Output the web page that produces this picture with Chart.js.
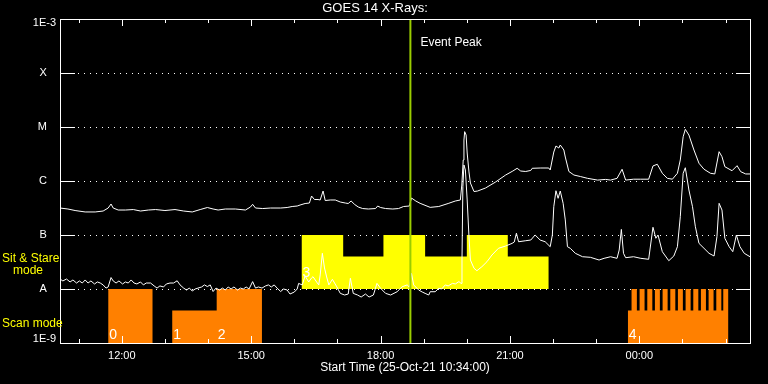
<!DOCTYPE html>
<html><head><meta charset="utf-8">
<script src="https://cdn.jsdelivr.net/npm/chart.js@4.4.1/dist/chart.umd.min.js"></script>
<style>html,body{margin:0;padding:0;background:#000;}#wrap{width:768px;height:384px;}</style>
</head><body><div id="wrap"><canvas id="c" width="768" height="384"></canvas></div>
<script>
const TITLE = 'GOES 14 X-Rays:';
const X_TITLE = 'Start Time (25-Oct-21 10:34:00)';
// x values: minutes after 10:34 UT ; y values: flux (W/m^2)
const longChannel = [[0,3.16e-7],[11,3.03e-7],[21,2.84e-7],[35,2.67e-7],[49,2.67e-7],[60,2.78e-7],[67,3.16e-7],[71,3.75e-7],[74,3.16e-7],[81,2.90e-7],[91,2.90e-7],[102,2.96e-7],[112,2.78e-7],[123,2.90e-7],[133,2.96e-7],[146,2.84e-7],[160,2.96e-7],[172,2.78e-7],[184,2.67e-7],[195,2.96e-7],[205,3.23e-7],[213,3.03e-7],[220,2.90e-7],[230,3.03e-7],[244,3.03e-7],[258,2.90e-7],[265,3.30e-7],[268,3.70e-7],[272,3.16e-7],[282,3.09e-7],[293,3.16e-7],[307,3.16e-7],[316,3.23e-7],[323,3.37e-7],[330,3.44e-7],[334,3.59e-7],[341,3.83e-7],[347,3.91e-7],[350,5.27e-7],[354,4.54e-7],[359,4.54e-7],[362,4.45e-7],[366,6.52e-7],[369,4.35e-7],[376,4.45e-7],[383,4.45e-7],[390,4.08e-7],[397,3.91e-7],[401,3.83e-7],[405,4.26e-7],[410,3.67e-7],[415,3.30e-7],[421,3.09e-7],[429,3.03e-7],[439,3.09e-7],[442,3.44e-7],[446,3.23e-7],[453,3.09e-7],[463,3.03e-7],[471,3.09e-7],[478,3.37e-7],[486,3.44e-7],[489,4.84e-7],[495,4.26e-7],[501,3.86e-7],[515,3.25e-7],[527,3.37e-7],[540,3.83e-7],[550,4.26e-7],[557,4.45e-7],[559,8.42e-7],[561,2.45e-6],[562,5.74e-6],[563,8.2e-6],[565,7.10e-6],[566.5,3.30e-6],[569,1.47e-6],[571,9.17e-7],[576,6.38e-7],[581,6.52e-7],[592,7.41e-7],[606,9.58e-7],[620,1.29e-6],[630,1.53e-6],[636,1.72e-6],[641,1.53e-6],[648,1.50e-6],[655,1.57e-6],[657,1.72e-6],[669,1.74e-6],[680,1.74e-6],[682,1.60e-6],[687,3.44e-6],[690,4.45e-6],[694,4.08e-6],[696,4.64e-6],[701,3.75e-6],[703,2.78e-6],[708,1.50e-6],[715,1.29e-6],[724,1.21e-6],[734,1.12e-6],[748,1.04e-6],[759,1.07e-6],[766,1.04e-6],[775,1.12e-6],[782,1.65e-6],[787,1.04e-6],[798,1.08e-6],[808,1.08e-6],[819,1.08e-6],[825,1.90e-6],[831,2.04e-6],[838,1.39e-6],[845,1.12e-6],[852,1.08e-6],[859,1.39e-6],[863,2.45e-6],[867,6.6e-6],[870,9.05e-6],[875,7.10e-6],[882,3.75e-6],[889,2.13e-6],[896,1.65e-6],[905,1.39e-6],[911,1.35e-6],[917,3.49e-6],[921,2.82e-6],[925,1.84e-6],[935,1.55e-6],[942,1.92e-6],[947,1.49e-6],[954,1.35e-6],[960,1.35e-6]];
const shortChannel = [[0,1.53e-8],[4,1.41e-8],[9,1.53e-8],[14,1.35e-8],[18,1.47e-8],[23,1.29e-8],[27,1.41e-8],[31,1.29e-8],[35,1.47e-8],[39,1.29e-8],[43,1.41e-8],[48,1.24e-8],[52,1.35e-8],[56,1.29e-8],[60,1.19e-8],[64,1.04e-8],[67,1.09e-8],[71,1.63e-8],[74,1.41e-8],[78,1.29e-8],[82,1.41e-8],[87,1.24e-8],[91,1.35e-8],[95,1.29e-8],[99,1.47e-8],[103,1.29e-8],[107,1.24e-8],[112,1.35e-8],[116,1.19e-8],[120,1.29e-8],[126,1.29e-8],[131,1.14e-8],[135,1.04e-8],[139,1.14e-8],[144,1.09e-8],[148,1.24e-8],[153,1.29e-8],[158,1.29e-8],[163,1.42e-8],[167,1.19e-8],[172,1.04e-8],[176,9.58e-9],[180,1.04e-8],[184,9.17e-9],[188,1.00e-8],[192,1.04e-8],[197,1.09e-8],[201,1.19e-8],[205,1.11e-8],[209,1.19e-8],[213,8.98e-9],[217,1.04e-8],[222,9.58e-9],[226,1.04e-8],[230,9.58e-9],[234,1.09e-8],[238,1.00e-8],[242,1.09e-8],[247,9.58e-9],[251,1.04e-8],[255,1.00e-8],[259,1.09e-8],[263,1.00e-8],[268,1.37e-8],[272,1.04e-8],[276,1.09e-8],[281,1.04e-8],[286,1.14e-8],[290,1.19e-8],[294,1.09e-8],[298,1.19e-8],[302,1.04e-8],[307,8.98e-9],[311,1.00e-8],[316,9.58e-9],[320,8.07e-9],[326,8.79e-9],[330,1.00e-8],[332,1.27e-8],[337,1.19e-8],[341,1.74e-8],[346,1.35e-8],[350,1.60e-8],[352,1.69e-8],[357,1.35e-8],[360,1.19e-8],[362,1.82e-8],[365,4.58e-8],[368,2.45e-8],[371,1.67e-8],[374,1.19e-8],[379,1.51e-8],[382,1.29e-8],[385,1.10e-8],[390,8.3e-9],[396,7.74e-9],[401,8.07e-9],[404,1.58e-8],[408,8.3e-9],[414,7.74e-9],[419,7.10e-9],[425,8.07e-9],[430,7.10e-9],[436,7.74e-9],[441,1.27e-8],[446,1.03e-8],[453,8.3e-9],[460,7.74e-9],[469,8.9e-9],[476,1.10e-8],[483,1.19e-8],[486,1.09e-8],[489,1.95e-8],[492,1.19e-8],[499,9.58e-9],[504,8.79e-9],[508,8.3e-9],[513,7.74e-9],[515,8.9e-9],[522,8.9e-9],[527,1.03e-8],[531,1.00e-8],[536,1.19e-8],[540,1.14e-8],[546,1.27e-8],[550,1.24e-8],[555,1.37e-8],[558,1.27e-8],[559.3,3.44e-8],[560.5,7.84e-7],[562,1.98e-6],[564,1.60e-6],[566.5,4.45e-7],[569,9.3e-8],[571,3.44e-8],[576,2.42e-8],[580,2.18e-8],[587,2.59e-8],[594,3.20e-8],[601,4.26e-8],[610,5.67e-8],[620,6.25e-8],[629,7.0e-8],[632,7.41e-8],[635,1.08e-7],[638,7.5e-8],[648,7.84e-8],[655,8.07e-8],[661,1.00e-7],[668,8.07e-8],[675,7.5e-8],[682,6.07e-8],[685,1.00e-7],[687,3.34e-7],[690,6.6e-7],[693,4.78e-7],[696,6.52e-7],[700,3.86e-7],[703,1.90e-7],[706,6.07e-8],[710,5.67e-8],[717,4.58e-8],[727,3.96e-8],[738,3.86e-8],[750,3.44e-8],[757,3.70e-8],[766,3.96e-8],[775,3.70e-8],[778,5.27e-8],[781,1.27e-7],[784,4.58e-8],[787,3.80e-8],[798,3.96e-8],[808,3.70e-8],[819,3.55e-8],[825,1.39e-7],[829,8.7e-8],[832,1.00e-7],[838,4.91e-8],[847,3.34e-8],[854,4.08e-8],[859,6.07e-8],[863,2.18e-7],[867,1.39e-6],[870,1.76e-6],[875,6.81e-7],[880,3.34e-7],[884,1.42e-7],[889,7.0e-8],[896,5.67e-8],[903,4.58e-8],[910,4.08e-8],[914,9.3e-8],[917,3.86e-7],[921,2.90e-7],[925,8.7e-8],[931,6.07e-8],[936,4.91e-8],[941,1.00e-7],[946,6.07e-8],[952,4.58e-8],[960,3.96e-8]];

// Scan-mode blocks: edges (minutes) and level of each interval
const scanEdges = [[67,129],[156,218,281],[790,795.2,802.6,806.4,813.3,817.1,824.1,827.7,834.6,838.4,845.4,849.1,856.1,859.7,866.6,870.4,877.4,881.1,888.1,891.7,898.7,902.4,909.3,913.1,920.1,922.8,930]];
const scanLevels = [[1e-8],[4e-9,1e-8],[4e-9,1e-8,4e-9,1e-8,4e-9,1e-8,4e-9,1e-8,4e-9,1e-8,4e-9,1e-8,4e-9,1e-8,4e-9,1e-8,4e-9,1e-8,4e-9,1e-8,4e-9,1e-8,4e-9,1e-8,4e-9,1e-8]];
// Sit & Stare blocks
const stareEdges = [[336,394,450,508,566,623,680]];
const stareLevels = [[1e-7,4e-8,1e-7,4e-8,1e-7,4e-8]];
const blockLabels = ['0','1','2','3','4'];
const blockLabelMin = [67,156,218,336,790];
const blockLabelMode = ['scan','scan','scan','stare','scan'];
const eventPeakMin = 487.5;
const eventLabel = 'Event Peak';

const xTickMin = [26,86,146,206,266,326,386,446,506,566,626,686,746,806,866,926];
const xTickText = ['','12:00','','','15:00','','','18:00','','','21:00','','','00:00','',''];
const yTickVals = [1e-9,1e-8,1e-7,1e-6,1e-5,1e-4,1e-3];
const yTickText = ['1E-9','A','B','C','M','X','1E-3'];
const modeLabels = ['Sit & Stare','mode','Scan mode'];

function stepPoints(edgesList, levelsList){
  const pts=[];
  edgesList.forEach((e,bi)=>{
    const lv=levelsList[bi];
    for(let i=0;i<lv.length;i++) pts.push({x:e[i],y:lv[i]});
    pts.push({x:e[e.length-1],y:lv[lv.length-1]});
    pts.push({x:e[e.length-1],y:null});
  });
  return pts;
}
const FONT='Liberation Sans';

const decor = {
  id:'decor',
  beforeDatasetsDraw(chart){
    const {ctx, chartArea:a, scales:{y}} = chart;
    ctx.save();
    ctx.strokeStyle='#fff'; ctx.lineWidth=1;
    for(let i=1;i<yTickVals.length-1;i++){
      const py=Math.round(y.getPixelForValue(yTickVals[i]))+0.5;
      ctx.setLineDash([]);
      ctx.beginPath(); ctx.moveTo(a.left,py); ctx.lineTo(a.left+15,py);
      ctx.moveTo(a.right-14,py); ctx.lineTo(a.right,py); ctx.stroke();
      ctx.setLineDash([1,5]);
      ctx.beginPath(); ctx.moveTo(a.left+18,py); ctx.lineTo(a.right-14,py); ctx.stroke();
    }
    ctx.restore();
  },
  afterDatasetsDraw(chart){
    const {ctx, chartArea:a, scales:{x,y}} = chart;
    ctx.save();
    const ex=x.getPixelForValue(eventPeakMin);
    ctx.strokeStyle='#9acd00'; ctx.lineWidth=2;
    ctx.beginPath(); ctx.moveTo(ex,a.top); ctx.lineTo(ex,a.bottom); ctx.stroke();
    ctx.fillStyle='#fff'; ctx.font='12px "'+FONT+'"'; ctx.textBaseline='middle'; ctx.textAlign='left';
    ctx.fillText(eventLabel, ex+10, a.top+24);
    ctx.font='14px "'+FONT+'"'; ctx.textBaseline='alphabetic';
    blockLabels.forEach((t,i)=>{
      const px=x.getPixelForValue(blockLabelMin[i])+1;
      const base = blockLabelMode[i]==='scan' ? y.getPixelForValue(1e-9)-4 : y.getPixelForValue(1e-8)-12;
      ctx.fillText(t,px,base);
    });
    ctx.strokeStyle='#fff'; ctx.lineWidth=1;
    ctx.strokeRect(a.left+0.5,a.top+0.5,a.right-a.left,a.bottom-a.top);
    ctx.beginPath();
    xTickMin.forEach((m,i)=>{
      const px=Math.round(x.getPixelForValue(m))+0.5;
      const len = xTickText[i] ? 7 : 4;
      ctx.moveTo(px,a.bottom); ctx.lineTo(px,a.bottom-len);
      ctx.moveTo(px,a.top); ctx.lineTo(px,a.top+len);
    });
    ctx.stroke();
    ctx.fillStyle='#ffff00'; ctx.font='12px "'+FONT+'"'; ctx.textBaseline='middle'; ctx.textAlign='left';
    const yA=y.getPixelForValue(1e-8), y9=y.getPixelForValue(1e-9);
    ctx.fillText(modeLabels[0],2,yA-30);
    ctx.fillText(modeLabels[1],13,yA-18);
    ctx.fillText(modeLabels[2],2,y9-19);
    ctx.restore();
  }
};

new Chart(document.getElementById('c'),{
  type:'line',
  data:{datasets:[
    {data:longChannel.map(p=>({x:p[0],y:p[1]})),borderColor:'#fff',borderWidth:1,pointRadius:0,fill:false,order:0},
    {data:shortChannel.map(p=>({x:p[0],y:p[1]})),borderColor:'#fff',borderWidth:1,pointRadius:0,fill:false,order:0},
    {data:stepPoints(stareEdges,stareLevels),stepped:'before',borderWidth:0,borderColor:'rgba(0,0,0,0)',backgroundColor:'#ffff00',pointRadius:0,fill:{value:1e-8},order:1},
    {data:stepPoints(scanEdges,scanLevels),stepped:'before',borderWidth:0,borderColor:'rgba(0,0,0,0)',backgroundColor:'#ff8000',pointRadius:0,fill:{value:1e-9},order:1}
  ]},
  options:{
    responsive:false,animation:false,devicePixelRatio:1,
    layout:{padding:{left:0,right:18,top:0,bottom:0}},
    plugins:{legend:{display:false},tooltip:{enabled:false},
      title:{display:true,text:TITLE,color:'#fff',font:{family:FONT,size:13,weight:'normal',lineHeight:1},padding:{top:2,bottom:4}}},
    scales:{
      x:{type:'linear',min:0,max:960,grid:{display:false,drawTicks:false},border:{display:false},
        afterBuildTicks:s=>{s.ticks=xTickMin.map(v=>({value:v}));},
        afterFit:s=>{s.height=41;},
        ticks:{autoSkip:false,maxRotation:0,color:'#fff',font:{family:FONT,size:11},padding:6,callback:(v,i)=>xTickText[i]},
        title:{display:true,text:X_TITLE,color:'#fff',font:{family:FONT,size:12},padding:{top:0,bottom:9}}},
      y:{type:'logarithmic',min:1e-9,max:1e-3,grid:{display:false,drawTicks:false},border:{display:false},
        afterBuildTicks:s=>{s.ticks=yTickVals.map(v=>({value:v}));},
        afterFit:s=>{s.width=60;},
        ticks:{autoSkip:false,color:'#fff',font:{family:FONT,size:11,lineHeight:0.73},padding:4,
          callback:(v,i)=>{const t=yTickText[i]; if(i===0) return [t,'']; if(i===yTickText.length-1) return ['',t]; return t+'   ';}}}
    }
  },
  plugins:[decor]
});
</script></body></html>
